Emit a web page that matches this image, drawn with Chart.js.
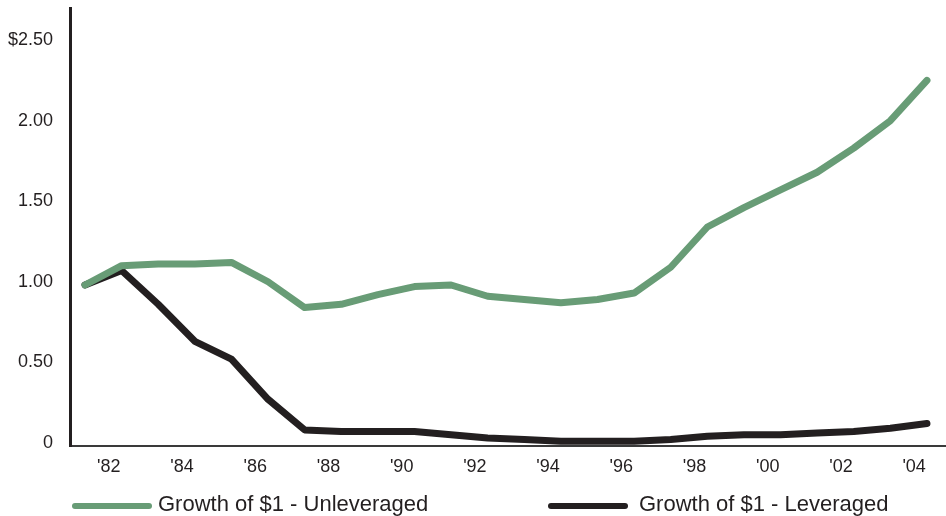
<!DOCTYPE html>
<html>
<head>
<meta charset="utf-8">
<script src="https://cdn.jsdelivr.net/npm/chart.js@4/dist/chart.umd.min.js"></script>
<style>
  html, body { margin: 0; padding: 0; background: #fff; }
  #wrap { width: 946px; height: 516px; position: relative; }
</style>
</head>
<body>
<div id="wrap"><canvas id="growth"></canvas></div>
<script>
// yearly values, 1981 - 2004
const years = [1981, 1982, 1983, 1984, 1985, 1986, 1987, 1988, 1989, 1990, 1991, 1992,
               1993, 1994, 1995, 1996, 1997, 1998, 1999, 2000, 2001, 2002, 2003, 2004];
const unleveraged = [0.98, 1.10, 1.11, 1.11, 1.12, 1.00, 0.84, 0.86, 0.92, 0.97, 0.98, 0.91,
                     0.89, 0.87, 0.89, 0.93, 1.09, 1.34, 1.46, 1.57, 1.68, 1.83, 2.00, 2.25];
const leveraged = [0.98, 1.07, 0.86, 0.63, 0.52, 0.27, 0.08, 0.07, 0.07, 0.07, 0.05, 0.03,
                   0.02, 0.01, 0.01, 0.01, 0.02, 0.04, 0.05, 0.05, 0.06, 0.07, 0.09, 0.12];
const seriesNames = ['Growth of $1 - Unleveraged', 'Growth of $1 - Leveraged'];
const seriesColors = ['#689c76', '#231f20'];
const yTicks = [0, 0.5, 1.0, 1.5, 2.0, 2.5];
const yTickLabels = ['0', '0.50', '1.00', '1.50', '2.00', '$2.50'];
const xTickYears = [1982, 1984, 1986, 1988, 1990, 1992, 1994, 1996, 1998, 2000, 2002, 2004];

const FONT = '"Liberation Sans", Arial, sans-serif';
const INK = '#231f20';
const LABEL_SHIFT = 0.35; // year labels sit a little left of the year-end point

// legend drawn under the axis: a thick rounded swatch then the name
const bottomLegend = {
  id: 'bottomLegend',
  afterDraw(chart) {
    const ctx = chart.ctx;
    const starts = [72, 548];
    const y = 505;
    ctx.save();
    ctx.font = '22px ' + FONT;
    ctx.textBaseline = 'middle';
    ctx.textAlign = 'left';
    chart.data.datasets.forEach((ds, i) => {
      const x0 = starts[i];
      ctx.strokeStyle = ds.borderColor;
      ctx.lineWidth = 6;
      ctx.lineCap = 'round';
      ctx.beginPath();
      ctx.moveTo(x0 + 3, y + 1);
      ctx.lineTo(x0 + 77, y + 1);
      ctx.stroke();
      ctx.fillStyle = INK;
      ctx.fillText(ds.label, x0 + (i === 0 ? 86 : 91), y);
    });
    ctx.restore();
  }
};

const toPoints = vals => vals.map((v, i) => ({ x: years[i], y: v }));

new Chart(document.getElementById('growth'), {
  type: 'line',
  data: {
    datasets: [
      {
        label: seriesNames[0],
        data: toPoints(unleveraged),
        borderColor: seriesColors[0],
        borderWidth: 7
      },
      {
        label: seriesNames[1],
        data: toPoints(leveraged),
        borderColor: seriesColors[1],
        borderWidth: 7
      }
    ]
  },
  options: {
    responsive: true,
    maintainAspectRatio: false,
    animation: false,
    devicePixelRatio: 1,
    layout: { padding: { top: 8, left: 0, right: 0, bottom: 30 } },
    elements: {
      point: { radius: 0 },
      line: { tension: 0, borderCapStyle: 'round', borderJoinStyle: 'round', fill: false }
    },
    plugins: {
      legend: { display: false },
      tooltip: { enabled: false }
    },
    scales: {
      x: {
        type: 'linear',
        min: 1980.59,
        max: 2004.52,
        afterBuildTicks: scale => {
          scale.ticks = xTickYears.map(yr => ({ value: yr - LABEL_SHIFT }));
        },
        afterFit: scale => {
          scale.height = 40;
          scale.paddingLeft = 0;
          scale.paddingRight = 0;
        },
        grid: { display: false, drawTicks: false },
        border: { display: true, color: '#3a3a3a', width: 2 },
        ticks: {
          autoSkip: false,
          maxRotation: 0,
          padding: 10,
          color: INK,
          font: { family: FONT, size: 18 },
          callback: v => "'" + String(Math.round(v + LABEL_SHIFT)).slice(2)
        }
      },
      y: {
        min: -0.02,
        max: 2.70,
        afterBuildTicks: scale => {
          scale.ticks = yTicks.map(v => ({ value: v }));
        },
        afterFit: scale => {
          scale.width = 70;
          scale.paddingTop = 0;
          scale.paddingBottom = 0;
        },
        grid: { display: false, drawTicks: false },
        border: { display: true, color: INK, width: 3 },
        ticks: {
          padding: 17,
          color: INK,
          font: { family: FONT, size: 18 },
          callback: v => yTickLabels[yTicks.indexOf(v)]
        }
      }
    }
  },
  plugins: [bottomLegend]
});
</script>
</body>
</html>
